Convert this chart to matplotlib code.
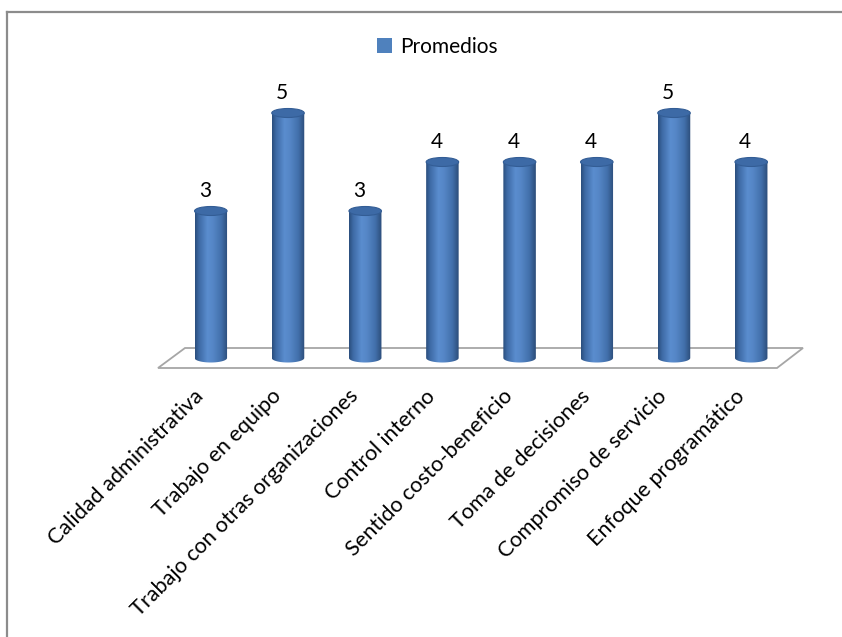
import numpy as np
import matplotlib
matplotlib.use("Agg")
import matplotlib.pyplot as plt
from matplotlib.patches import Polygon, Ellipse, PathPatch, Patch
from matplotlib.path import Path
from matplotlib.colors import LinearSegmentedColormap
from matplotlib.lines import Line2D

categories = ["Calidad administrativa", "Trabajo en equipo",
              "Trabajo con otras organizaciones", "Control interno",
              "Sentido costo-beneficio", "Toma de decisiones",
              "Compromiso de servicio", "Enfoque programático"]
values = [3, 5, 3, 4, 4, 4, 5, 4]
series_name = "Promedios"

plt.rcParams['font.family'] = ['Lato', 'DejaVu Sans']
W, H = 842, 637
fig = plt.figure(figsize=(W / 100, H / 100), dpi=100)
ax = fig.add_axes([0, 0, 1, 1])

# pixel mapping: x_px = 210.8 + 77.2*i ; y_px = 358 - 49*v
x0p, dxp = 210.8, 77.2
y0p, dyp = 358.0, 49.0
ax.set_xlim((0 - x0p) / dxp, (W - x0p) / dxp)
ax.set_ylim((y0p - H) / dyp, (y0p - 0) / dyp)
ax.axis('off')

def px2x(px):
    return (px - x0p) / dxp

def py2y(py):
    return (y0p - py) / dyp

# floor
floor = Polygon([(px2x(158), py2y(368)), (px2x(185), py2y(348)),
                 (px2x(803), py2y(348)), (px2x(777), py2y(368))],
                closed=True, facecolor='white', edgecolor='#a6a6a6', lw=1.3, zorder=1)
ax.add_patch(floor)

cmap = LinearSegmentedColormap.from_list('cyl', [
    (0.0, '#2a4d7c'), (0.12, '#3d69a4'), (0.38, '#5a8dcf'),
    (0.55, '#5586c6'), (0.8, '#4270ab'), (1.0, '#2b4c78')])

bw = 32.5 / dxp
eh = 9.0 / dyp
grad = np.linspace(0, 1, 256).reshape(1, -1)
for i, v in enumerate(values):
    xl, xr = i - bw / 2, i + bw / 2
    t = np.linspace(np.pi, 2 * np.pi, 40)
    bx = i + (bw / 2) * np.cos(t)
    by = 0 + (eh / 2) * np.sin(t)
    verts = [(xl, v)] + list(zip(bx, by)) + [(xr, v), (xl, v)]
    codes = [Path.MOVETO] + [Path.LINETO] * (len(verts) - 2) + [Path.CLOSEPOLY]
    path = Path(verts, codes)
    pp = PathPatch(path, facecolor='none', edgecolor='none', zorder=2)
    ax.add_patch(pp)
    im = ax.imshow(grad, cmap=cmap, extent=[xl, xr, -eh, v], aspect='auto',
                   interpolation='bilinear', zorder=2)
    im.set_clip_path(pp)
    top = Ellipse((i, v), bw, eh, facecolor='#3d6aa6', edgecolor='#335d95',
                  lw=0.8, zorder=3)
    ax.add_patch(top)
    ax.text(i - 6 / dxp, v + 20 / dyp, str(v), ha='center', va='center',
            fontsize=15, color='black', zorder=4)
    ax.text(i - 10 / dxp, py2y(393), categories[i], rotation=45,
            rotation_mode='anchor', ha='right', va='center', fontsize=15.6,
            color='black', zorder=4)

leg = ax.legend(handles=[Patch(facecolor='#4f81bd', edgecolor='none', label=series_name)],
                loc='center', bbox_to_anchor=(437.5 / W, 1 - 47 / H),
                bbox_transform=fig.transFigure, frameon=False, fontsize=15,
                handlelength=0.7, handleheight=0.7, handletextpad=0.4)

# outer frame (left and top edges visible)
fig.add_artist(Line2D([7 / W, 7 / W], [0, 1 - 12 / H], transform=fig.transFigure,
                      color='#8c8c8c', lw=1.6))
fig.add_artist(Line2D([7 / W, 1], [1 - 12 / H, 1 - 12 / H], transform=fig.transFigure,
                      color='#8c8c8c', lw=1.6))

fig.savefig('out.png', dpi=100)
